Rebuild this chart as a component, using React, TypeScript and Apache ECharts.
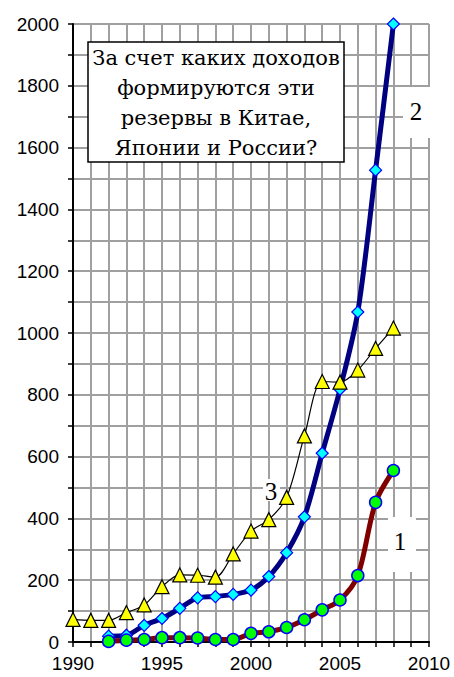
import React, { useEffect, useRef } from "react";
import * as echarts from "echarts";

const years = [1990, 1991, 1992, 1993, 1994, 1995, 1996, 1997, 1998, 1999, 2000, 2001, 2002, 2003, 2004, 2005, 2006, 2007, 2008];
// series 1 (Russia) – starts 1992
const russia = [null, null, 2, 6, 8, 14, 14, 13, 8, 8, 28, 33, 47, 72, 104, 136, 215, 452, 555];
// series 2 (China) – starts 1992
const china = [null, null, 19, 22, 54, 76, 109, 143, 147, 154, 168, 212, 289, 405, 611, 818, 1068, 1527, 2000];
// series 3 (Japan)
const japan = [73, 70, 70, 95, 120, 179, 217, 216, 210, 285, 359, 396, 468, 667, 843, 841, 880, 950, 1016];

const xTicks = [1990, 1995, 2000, 2005, 2010];
const yTicks = [0, 200, 400, 600, 800, 1000, 1200, 1400, 1600, 1800, 2000];
const question = ["За счет каких доходов", "формируются эти", "резервы в Китае,", "Японии и России?"];
const seriesLabels = ["1", "2", "3"];

const pairs = (arr: (number | null)[]) =>
  years.map((y, i) => (arr[i] == null ? null : [y, arr[i]])).filter((p) => p !== null);

export default function App() {
  const ref = useRef<HTMLDivElement>(null);
  useEffect(() => {
    if (!ref.current) return;
    const chart = echarts.init(ref.current, null, { renderer: "svg" });
    const axisFont = { fontFamily: "'Liberation Sans', Arial, sans-serif", fontSize: 19, color: "#000" };
    const serif = "'Liberation Serif', 'Times New Roman', serif";
    const cyrSerif = "'DejaVu Serif', serif";
    const lbl = (text: string, x: number, y: number, z: number) => ({
      type: "text",
      x,
      y,
      style: { text, fontFamily: serif, fontSize: 25, fill: "#000", align: "center", verticalAlign: "middle" },
      z,
    });
    chart.setOption({
      animation: false,
      backgroundColor: "#fff",
      grid: { left: 73, right: 25, top: 24, bottom: 35, containLabel: false },
      xAxis: {
        type: "value",
        min: 1990,
        max: 2010,
        interval: 1,
        axisLine: { show: true, onZero: false, lineStyle: { color: "#000", width: 2 } },
        axisTick: { show: true, length: 5, lineStyle: { color: "#000", width: 1.5 } },
        axisLabel: {
          ...axisFont,
          margin: 12,
          formatter: (v: number) => (xTicks.includes(v) ? String(v) : ""),
        },
        splitLine: { show: true, lineStyle: { color: "#a0a0a0", width: 2 } },
      },
      yAxis: {
        type: "value",
        min: 0,
        max: 2000,
        interval: 100,
        axisLine: { show: true, onZero: false, lineStyle: { color: "#000", width: 2 } },
        axisTick: { show: true, length: 5, lineStyle: { color: "#000", width: 1.5 } },
        axisLabel: {
          ...axisFont,
          margin: 14,
          formatter: (v: number) => (yTicks.includes(v) ? String(v) : ""),
        },
        splitLine: { show: true, lineStyle: { color: "#a0a0a0", width: 2 } },
      },
      series: [
        {
          name: "2",
          type: "line",
          data: pairs(china),
          smooth: 0.3,
          lineStyle: { color: "#000080", width: 5 },
          symbol: "diamond",
          symbolSize: 12,
          itemStyle: { color: "#00ffff", borderColor: "#0000ff", borderWidth: 1.2 },
          z: 2,
        },
        {
          name: "1",
          type: "line",
          data: pairs(russia),
          smooth: 0.3,
          lineStyle: { color: "#800000", width: 5 },
          symbol: "circle",
          symbolSize: 12,
          itemStyle: { color: "#00ff00", borderColor: "#0000ff", borderWidth: 1.5 },
          z: 3,
        },
        {
          name: "3",
          type: "line",
          data: pairs(japan),
          smooth: 0.3,
          lineStyle: { color: "#000", width: 1.2 },
          symbol: "triangle",
          symbolSize: 14,
          itemStyle: { color: "#ffff00", borderColor: "#000", borderWidth: 1.2 },
          z: 4,
        },
      ],
      graphic: [
        {
          type: "rect",
          shape: { x: 88, y: 42, width: 256, height: 120 },
          style: { fill: "#fff", stroke: "#000", lineWidth: 1.5 },
          z: 100,
        },
        {
          type: "text",
          x: 216,
          y: 103,
          style: {
            text: question.join("\n"),
            fontFamily: cyrSerif,
            fontSize: 21,
            fill: "#000",
            align: "center",
            verticalAlign: "middle",
            lineHeight: 30,
          },
          z: 101,
        },
        { type: "rect", shape: { x: 403, y: 87, width: 30, height: 51 }, style: { fill: "#fff" }, z: 100 },
        lbl(seriesLabels[1], 416, 111, 101),
        { type: "rect", shape: { x: 388, y: 517, width: 28, height: 55 }, style: { fill: "#fff" }, z: 100 },
        lbl(seriesLabels[0], 400, 541, 101),
        { type: "rect", shape: { x: 263, y: 479, width: 17, height: 22 }, style: { fill: "#fff" }, z: 50 },
        lbl(seriesLabels[2], 271, 491, 51),
      ],
    });
    return () => chart.dispose();
  }, []);
  return <div ref={ref} style={{ position: "fixed", left: 0, top: 0, width: 454, height: 677 }} />;
}
